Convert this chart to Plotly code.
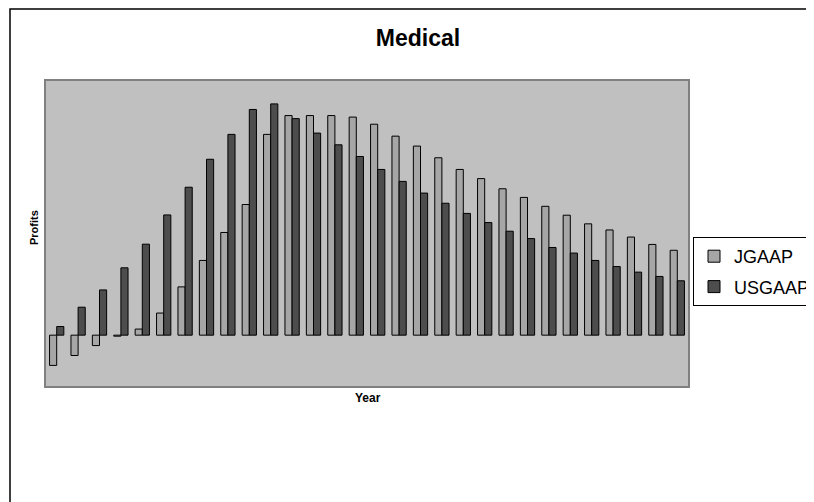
import plotly.graph_objects as go

years = list(range(1, 31))
jgaap = [-119, -80, -41, -4, 24, 87, 190, 294, 404, 514,
         790, 864, 864, 864, 858, 830, 783, 744, 698, 652,
         616, 576, 542, 507, 472, 438, 414, 386, 357, 334]
usgaap = [34, 110, 178, 265, 358, 473, 582, 692, 790, 888,
          910, 852, 795, 749, 703, 652, 605, 559, 519, 479,
          443, 409, 380, 345, 323, 294, 270, 248, 231, 214]

# page body has an 8px margin; work in window pixels and convert
OX, OY = 8, 8
W, H = 814 - OX, 502 - OY
L, R, T, B = 46 - OX, 688 - OX, 81 - OY, 386 - OY
pw, ph = R - L, B - T

def px_x(x):
    return (x - OX - L) / pw

def px_y(y):
    return (B - (y - OY)) / ph

font = "Liberation Sans, Arial, sans-serif"

fig = go.Figure()
fig.add_trace(go.Bar(x=years, y=jgaap, name="JGAAP", legendgroup="a",
                     marker=dict(color="#A6A6A6", line=dict(color="#000000", width=1))))
fig.add_trace(go.Bar(x=years, y=usgaap, name="USGAAP", legendgroup="b",
                     marker=dict(color="#4D4D4D", line=dict(color="#000000", width=1))))

fig.update_layout(
    width=W, height=H,
    margin=dict(l=L, r=W - R, t=T, b=H - B, pad=0, autoexpand=False),
    paper_bgcolor="white", plot_bgcolor="#C0C0C0",
    barmode="group", bargap=0.333, bargroupgap=0,
    font=dict(family=font, color="#000000"),
    title=dict(text="<b>Medical</b>", font=dict(size=23, family=font),
               x=(418 - OX) / W, xanchor="center", xref="container",
               y=1 - (38 - OY) / H, yanchor="middle", yref="container"),
    xaxis=dict(range=[0.5, 30.5], showticklabels=False, ticks="", showgrid=False,
               zeroline=False, showline=True, mirror=True, linecolor="#808080", linewidth=2),
    yaxis=dict(range=[-200, 1000], showticklabels=False, ticks="", showgrid=False,
               zeroline=False, showline=True, mirror=True, linecolor="#808080", linewidth=2),
    showlegend=True,
    legend=dict(x=(693 - OX) / W, xanchor="left", xref="container",
                y=1 - (237 - OY) / H, yanchor="top", yref="container",
                bgcolor="white", bordercolor="#000000", borderwidth=1,
                font=dict(size=18, family=font), tracegroupgap=4, itemwidth=30),
    annotations=[
        dict(text="<b>Profits</b>", x=px_x(34), y=px_y(228), xref="paper", yref="paper",
             showarrow=False, textangle=-90, font=dict(size=11, family=font),
             xanchor="center", yanchor="middle"),
        dict(text="<b>Year</b>", x=px_x(368), y=px_y(398), xref="paper", yref="paper",
             showarrow=False, font=dict(size=12, family=font),
             xanchor="center", yanchor="middle"),
    ],
    shapes=[
        dict(type="rect", xref="paper", yref="paper",
             x0=px_x(10), x1=px_x(900), y0=px_y(600), y1=px_y(9),
             line=dict(color="#000000", width=1.5), fillcolor="rgba(0,0,0,0)", layer="below"),
    ],
)

fig.write_html("out.html")
